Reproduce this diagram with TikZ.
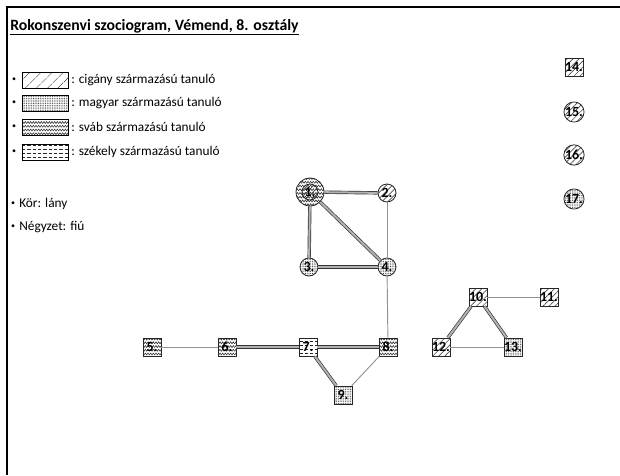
\documentclass[tikz,border=0pt]{standalone}
\usepackage{fontspec}
\setmainfont{Carlito}
\usetikzlibrary{patterns,patterns.meta}
\pgfdeclarepatternformonly{svab}{\pgfpoint{-0.5pt}{-0.5pt}}{\pgfpoint{4.5pt}{3.5pt}}{\pgfpoint{4pt}{2.8pt}}{%
  \pgfsetlinewidth{0.4pt}%
  \pgfpathmoveto{\pgfpoint{0pt}{0.4pt}}%
  \pgfpathlineto{\pgfpoint{1pt}{1.9pt}}%
  \pgfpathlineto{\pgfpoint{2pt}{0.4pt}}%
  \pgfpathlineto{\pgfpoint{3pt}{1.9pt}}%
  \pgfpathlineto{\pgfpoint{4pt}{0.4pt}}%
  \pgfusepath{stroke}}
\pgfdeclarepatternformonly{szekely}{\pgfpoint{-0.5pt}{-0.5pt}}{\pgfpoint{4.5pt}{3.5pt}}{\pgfpoint{4pt}{3pt}}{%
  \pgfsetlinewidth{0.4pt}%
  \pgfpathmoveto{\pgfpoint{0.5pt}{1.5pt}}%
  \pgfpathlineto{\pgfpoint{3pt}{1.5pt}}%
  \pgfusepath{stroke}}
\pgfdeclarepatternformonly{magyar}{\pgfpoint{-0.5pt}{-0.5pt}}{\pgfpoint{1.8pt}{1.8pt}}{\pgfpoint{1.3pt}{1.3pt}}{%
  \pgfpathcircle{\pgfpoint{0.35pt}{0.35pt}}{0.38pt}%
  \pgfusepath{fill}}
\tikzset{
  legbox/.style={draw=black, line width=0.5pt, minimum width=34.5pt, minimum height=12pt, inner sep=0pt},
  legtext/.style={anchor=west, font=\fontsize{10}{12}\selectfont, inner sep=0pt},
  pers/.style={draw=black!85, line width=0.6pt, inner sep=0pt, font=\fontsize{10.5}{11}\selectfont\bfseries, text=black},
  fiu/.style={pers, rectangle, minimum size=13.5pt},
  lany/.style={pers, circle, minimum size=13.5pt},
  cig/.style={pattern={Lines[angle=45,distance=3.2pt,line width=0.5pt]}, pattern color=black!70},
  cigleg/.style={pattern={Lines[angle=45,distance=6.5pt,line width=0.45pt]}},
  mag/.style={pattern=magyar, pattern color=black!75},
  sva/.style={pattern=svab, pattern color=black!85},
  sze/.style={pattern=szekely, pattern color=black!85},
  mutual/.style={draw=black!80, line width=0.5pt, double=gray!60, double distance=1.5pt},
  single/.style={draw=gray!85, line width=0.7pt},
}
\begin{document}
\begin{tikzpicture}[x=0.75pt,y=-0.75pt]
\useasboundingbox (0,0) rectangle (620,475);
\fill[white] (0,0) rectangle (620,475);
% frame
\draw[black, line width=1.1pt] (7,475) -- (7,7) -- (620,7);
% title
\node[anchor=base west, inner sep=0pt, font=\fontsize{11.8}{14}\selectfont\bfseries] (title) at (10,30) {\underline{Rokonszenvi szociogram, Vémend, 8. osztály}};
% legend
\foreach \y/\st/\txt [count=\i] in {80/cigleg/{: cigány származású tanuló},103/mag/{: magyar származású tanuló},127/sva/{: sváb származású tanuló},152/sze/{: székely származású tanuló}}{
  \node[inner sep=0pt, font=\fontsize{6}{8}\selectfont] (b\i) at (14,\y) {•};
  \node[legbox, \st] (lb\i) at (45,\y) {};
  \node[legtext] (lt\i) at (71,\y) {\txt};
}
\node[inner sep=0pt, font=\fontsize{6}{8}\selectfont] (kb) at (13,204) {•};
\node[legtext] (kor) at (19,204) {Kör: lány};
\node[inner sep=0pt, font=\fontsize{6}{8}\selectfont] (nb) at (13,227) {•};
\node[legtext] (negy) at (19,227) {Négyzet: fiú};
% persons
\node[pers, circle, minimum size=21pt, sva] (n1) at (310,192) {};
\node[pers, circle, minimum size=12pt, fill=white, cig] (n1i) at (310,192) {1.};
\node[lany, cig] (n2) at (387,193) {2.};
\node[lany, mag] (n3) at (309,267) {3.};
\node[lany, mag] (n4) at (387,267) {4.};
\node[fiu, sva] (n5) at (152,347) {5.};
\node[fiu, sva] (n6) at (227,347) {6.};
\node[fiu, sze] (n7) at (308,347) {7.};
\node[fiu, sva] (n8) at (388,347) {8.};
\node[fiu, mag] (n9) at (343,395) {9.};
\node[fiu, cig] (n10) at (478,297) {10.};
\node[fiu, cig] (n11) at (549,297) {11.};
\node[fiu, cig] (n12) at (441,347) {12.};
\node[fiu, mag] (n13) at (513,347) {13.};
\node[fiu, cig] (n14) at (574,67) {14.};
\node[lany, cig] (n15) at (574,112) {15.};
\node[lany, cig] (n16) at (574,155) {16.};
\node[lany, mag] (n17) at (574,199) {17.};
% connectors
\draw[mutual] (n1) -- (n2);
\draw[mutual] (n1) -- (n3);
\draw[mutual] (n1) -- (n4);
\draw[mutual] (n3) -- (n4);
\draw[single] (n2) -- (n4);
\draw[single] (n4) -- (n8);
\draw[single] (n5) -- (n6);
\draw[mutual] (n6) -- (n7);
\draw[mutual] (n7) -- (n8);
\draw[mutual] (n7) -- (n9);
\draw[single] (n8) -- (n9);
\draw[single] (n10) -- (n11);
\draw[mutual] (n10) -- (n12);
\draw[mutual] (n10) -- (n13);
\draw[single] (n12) -- (n13);
\end{tikzpicture}
\end{document}
